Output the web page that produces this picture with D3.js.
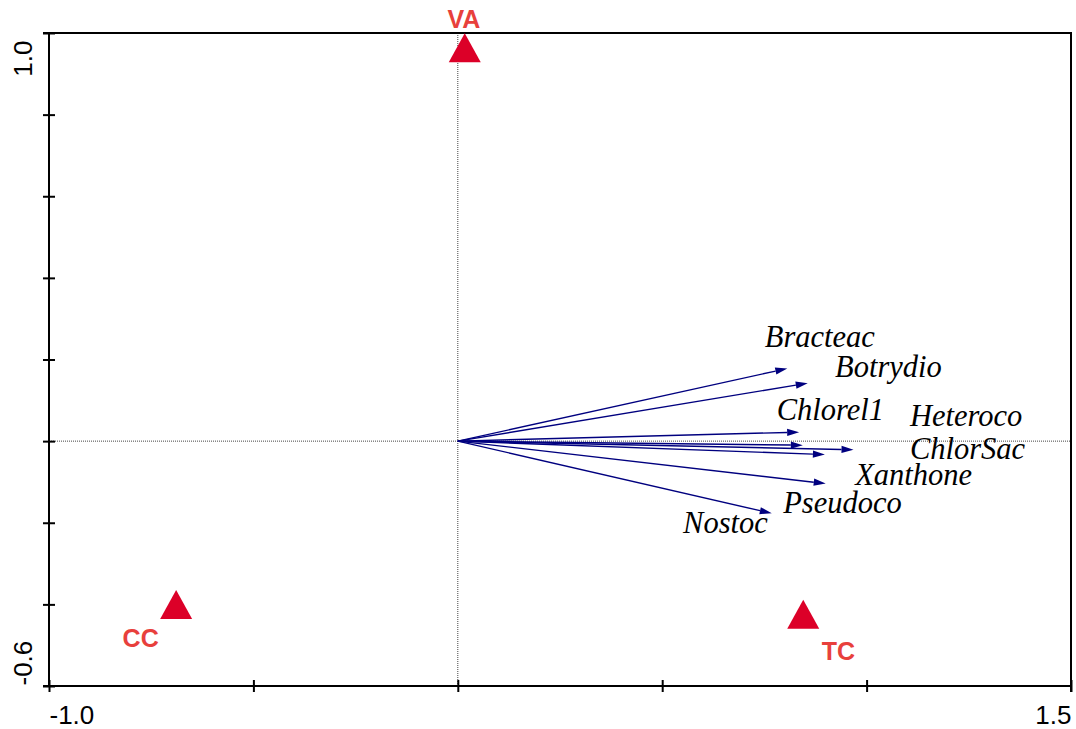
<!DOCTYPE html>
<html>
<head>
<meta charset="utf-8">
<script src="https://cdn.jsdelivr.net/npm/d3@7"></script>
<style>
  html, body { margin: 0; padding: 0; background: #fff; }
  svg { display: block; }
</style>
</head>
<body>
<svg id="chart" width="1076" height="729"></svg>
<script>
// Species arrows (biplot scores on axes 1 and 2)
const species  = ["Bracteac", "Botrydio", "Chlorel1", "Heteroco", "ChlorSac", "Xanthone", "Pseudoco", "Nostoc"];
const speciesX = [0.806, 0.856, 0.835, 0.844, 0.968, 0.898, 0.900, 0.768];
const speciesY = [0.178, 0.142, 0.022, -0.010, -0.021, -0.033, -0.104, -0.177];
// Where each species name sits (axis units, start of text / baseline)
const speciesLabelX = [0.751, 0.923, 0.780, 1.106, 1.106, 0.972, 0.796, 0.551];
const speciesLabelY = [0.231, 0.156, 0.052, 0.037, -0.045, -0.108, -0.175, -0.225];

// Sample / treatment centroids
const sites  = ["VA", "CC", "TC"];
const siteX  = [0.017, -0.689, 0.845];
const siteY  = [0.964, -0.400, -0.424];
const siteLabelX = [0.015, -0.820, 0.890];
const siteLabelY = [1.012, -0.505, -0.536];
const siteLabelAnchor = ["middle", "start", "start"];

// Axis ticks
const xTicks = [-1.0, -0.5, 0.0, 0.5, 1.0, 1.5];
const yTicks = [-0.6, -0.4, -0.2, 0.0, 0.2, 0.4, 0.6, 0.8, 1.0];
const xTickLabels = {"-1": "-1.0", "1.5": "1.5"};
const yTickLabels = {"-0.6": "-0.6", "1": "1.0"};

const svg = d3.select("#chart");
const plotLeft = 49, plotRight = 1071, plotTop = 33, plotBottom = 686;

const x = d3.scaleLinear().domain([-1.0, 1.5]).range([plotLeft, plotRight]);
const y = d3.scaleLinear().domain([-0.6, 1.0]).range([plotBottom, plotTop]);

const navy = "#00007f";
const triRed = "#dc0028";
const labelRed = "#e8403c";

// Dotted zero lines
svg.append("line")
  .attr("x1", x(-1.0)).attr("x2", x(1.5))
  .attr("y1", y(0)).attr("y2", y(0))
  .attr("stroke", "#444").attr("stroke-width", 1)
  .attr("stroke-dasharray", "1,1");
svg.append("line")
  .attr("x1", x(0)).attr("x2", x(0))
  .attr("y1", y(1.0)).attr("y2", y(-0.6))
  .attr("stroke", "#444").attr("stroke-width", 1)
  .attr("stroke-dasharray", "1,1");

// Frame: top and right edges
svg.append("line")
  .attr("x1", x(-1.0) - 6).attr("x2", x(1.5) + 1)
  .attr("y1", y(1.0)).attr("y2", y(1.0))
  .attr("stroke", "#000").attr("stroke-width", 2);
svg.append("line")
  .attr("x1", x(1.5)).attr("x2", x(1.5))
  .attr("y1", y(1.0) - 1).attr("y2", y(-0.6) + 6)
  .attr("stroke", "#000").attr("stroke-width", 2);

// Bottom axis
const gx = svg.append("g")
  .attr("transform", `translate(0,${plotBottom})`)
  .call(d3.axisBottom(x).tickValues(xTicks).tickSize(6).tickSizeOuter(0)
    .tickFormat(d => xTickLabels[String(+d.toFixed(2))] || ""));
gx.select(".domain").attr("stroke", "#000").attr("stroke-width", 2)
  .attr("d", `M${plotLeft - 6},0H${plotRight + 1}`);
gx.selectAll(".tick line").attr("stroke", "#000").attr("stroke-width", 2)
  .attr("y1", -6).attr("y2", 6);
gx.selectAll(".tick text")
  .attr("font-family", "'Liberation Sans', Arial, sans-serif")
  .attr("font-size", 26).attr("fill", "#000")
  .attr("y", 38).attr("dy", 0)
  .attr("text-anchor", d => d < 0 ? "start" : "end");

// Left axis
const gy = svg.append("g")
  .attr("transform", `translate(${plotLeft},0)`)
  .call(d3.axisLeft(y).tickValues(yTicks).tickSize(6).tickSizeOuter(0)
    .tickFormat(d => yTickLabels[String(+d.toFixed(2))] || ""));
gy.select(".domain").attr("stroke", "#000").attr("stroke-width", 2)
  .attr("d", `M0,${plotTop - 1}V${plotBottom + 1}`);
gy.selectAll(".tick line").attr("stroke", "#000").attr("stroke-width", 2)
  .attr("x1", -6).attr("x2", 6);
gy.selectAll(".tick text")
  .attr("font-family", "'Liberation Sans', Arial, sans-serif")
  .attr("font-size", 26).attr("fill", "#000")
  .attr("x", null).attr("dy", 0)
  .attr("text-anchor", d => d < 0 ? "start" : "end")
  .attr("transform", d => d < 0
    ? `translate(-17,${plotBottom - y(d) - 1}) rotate(-90)`
    : `translate(-17,${plotTop - y(d) + 7}) rotate(-90)`);

// Species arrows
const headLen = 12, headHalf = 3.6;
const arrows = svg.append("g");
species.forEach((name, i) => {
  const x0 = x(0), y0 = y(0);
  const x1 = x(speciesX[i]), y1 = y(speciesY[i]);
  const ang = Math.atan2(y1 - y0, x1 - x0);
  const bx = x1 - headLen * Math.cos(ang), by = y1 - headLen * Math.sin(ang);
  arrows.append("line")
    .attr("x1", x0).attr("y1", y0).attr("x2", bx).attr("y2", by)
    .attr("stroke", navy).attr("stroke-width", 1.4);
  const px = -Math.sin(ang) * headHalf, py = Math.cos(ang) * headHalf;
  arrows.append("path")
    .attr("d", `M${x1},${y1}L${bx + px},${by + py}L${bx - px},${by - py}Z`)
    .attr("fill", navy);
  svg.append("text")
    .attr("x", x(speciesLabelX[i])).attr("y", y(speciesLabelY[i]))
    .attr("font-family", "'Liberation Serif', 'Times New Roman', serif")
    .attr("font-style", "italic").attr("font-size", 30.5)
    .attr("fill", "#000")
    .text(name);
});

// Site triangles and labels
const triW = 32, triH = 29;
sites.forEach((name, i) => {
  const cx = x(siteX[i]), cy = y(siteY[i]);
  svg.append("path")
    .attr("d", `M${cx},${cy - triH / 2}L${cx + triW / 2},${cy + triH / 2}L${cx - triW / 2},${cy + triH / 2}Z`)
    .attr("fill", triRed);
  svg.append("text")
    .attr("x", x(siteLabelX[i])).attr("y", y(siteLabelY[i]))
    .attr("text-anchor", siteLabelAnchor[i])
    .attr("font-family", "'Liberation Sans', Arial, sans-serif")
    .attr("font-weight", "bold").attr("font-size", 25)
    .attr("fill", labelRed)
    .text(name);
});
</script>
</body>
</html>
